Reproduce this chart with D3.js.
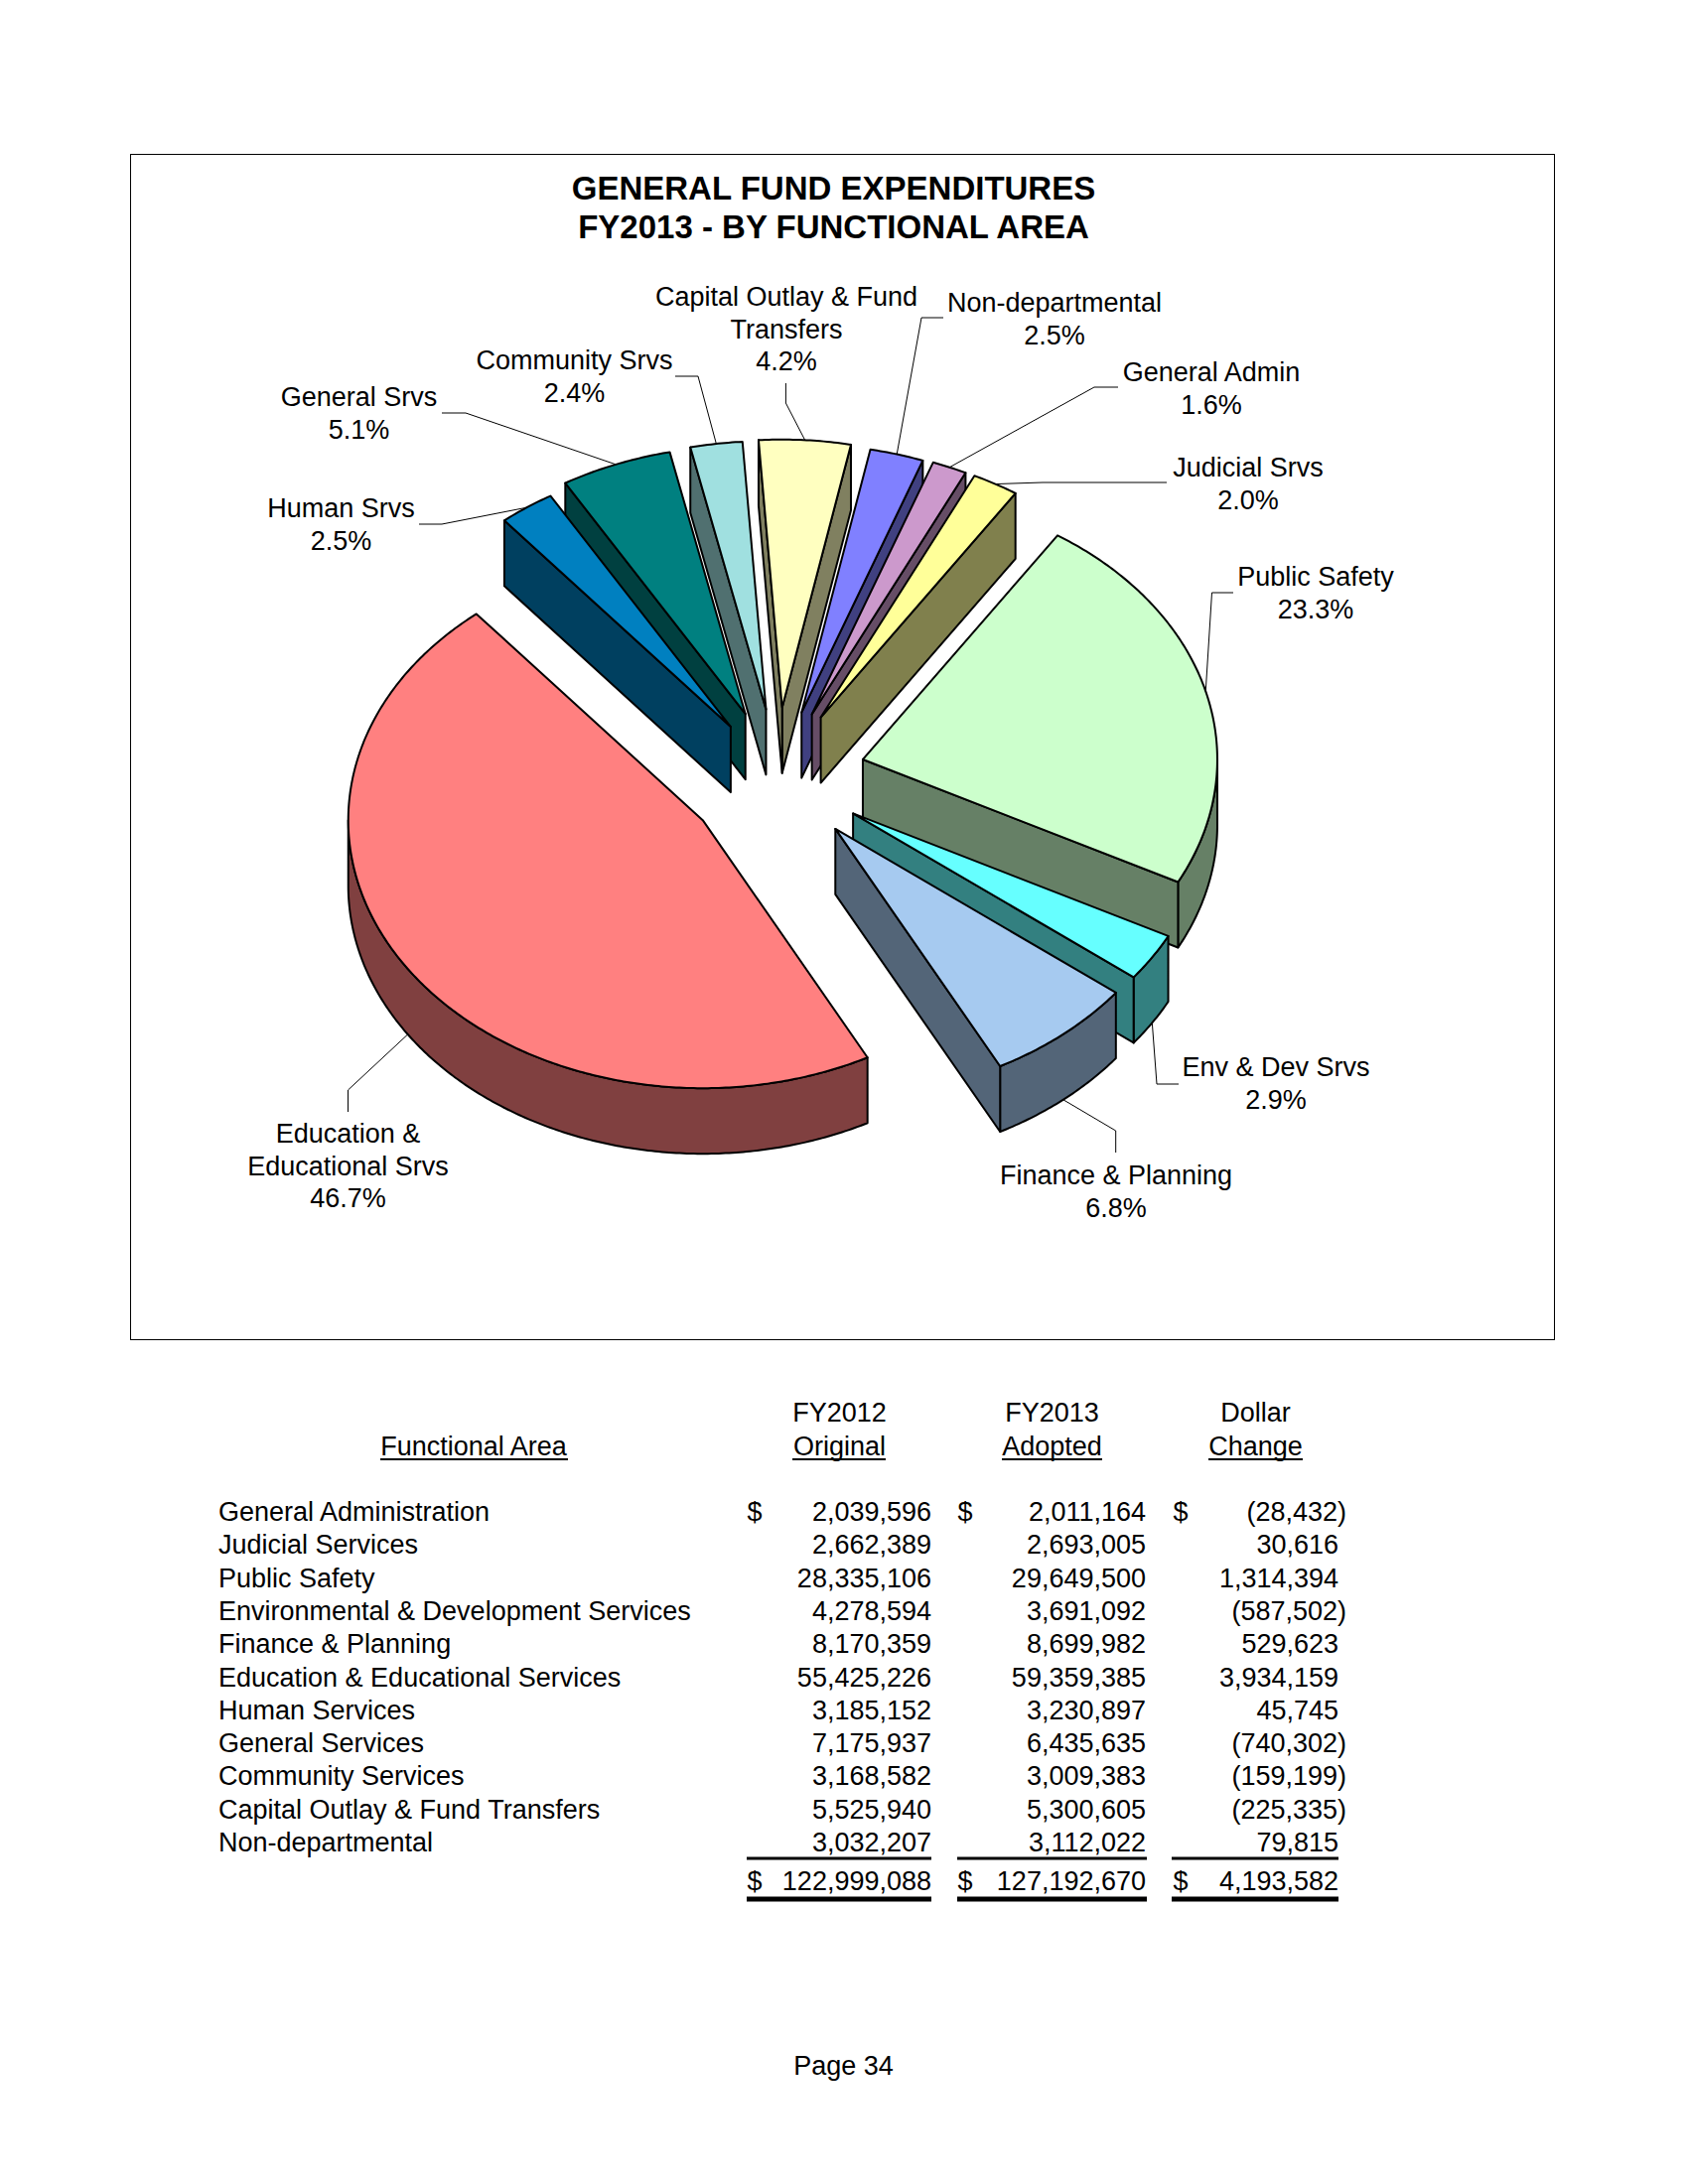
<!DOCTYPE html>
<html><head><meta charset="utf-8">
<script src="https://cdn.jsdelivr.net/npm/d3@7/dist/d3.min.js"></script>
<style>html,body{margin:0;padding:0;background:#fff}svg{display:block}text{font-family:"Liberation Sans",Arial,sans-serif;fill:#000}</style>
</head><body><svg id="c" width="1700" height="2200"></svg>
<script>
// ---- data ----
const areas = ["General Administration","Judicial Services","Public Safety","Environmental & Development Services","Finance & Planning","Education & Educational Services","Human Services","General Services","Community Services","Capital Outlay & Fund Transfers","Non-departmental"];
const fy2012 = [2039596,2662389,28335106,4278594,8170359,55425226,3185152,7175937,3168582,5525940,3032207];
const fy2013 = [2011164,2693005,29649500,3691092,8699982,59359385,3230897,6435635,3009383,5300605,3112022];
const change = [-28432,30616,1314394,-587502,529623,3934159,45745,-740302,-159199,-225335,79815];
const totals = [122999088,127192670,4193582];
const sliceLabels = [["General Admin"],["Judicial Srvs"],["Public Safety"],["Env & Dev Srvs"],["Finance & Planning"],["Education &","Educational Srvs"],["Human Srvs"],["General Srvs"],["Community Srvs"],["Capital Outlay & Fund","Transfers"],["Non-departmental"]];
const slicePct = ["1.6%","2.0%","23.3%","2.9%","6.8%","46.7%","2.5%","5.1%","2.4%","4.2%","2.5%"];
const sliceColors = ["#CC99CC","#FFFF99","#CCFFCC","#66FFFF","#A6CAF0","#FF8080","#0080C0","#008080","#A0E0E0","#FFFFC0","#8080FF"];
// ---- layout ----
const explodeX = [.255,.252,.251,.255,.257,.251,.226,.242,.216,.235,.26];
const explodeY = [.251,.253,.248,.258,.256,.295,.226,.25,.253,.257,.2475];
const drawOrder = [9,8,10,7,0,1,6,2,3,4,5];
const labelPos = [[1220,384],[1257,480],[1325,590],[1285,1084],[1124,1193],[350.5,1151],[343.5,521],[361.5,409],[578.5,372],[792,308],[1062,314]];
const elbows = [[[1126,390],[1102,390]],[[1175,486],[1050,486]],[[1242,597],[1220.5,597]],[[1187,1092],[1165,1092]],[[1123.7,1161],[1123.7,1139]],[[350.5,1120],[350.5,1098]],[[422,528],[445,528]],[[445,416],[469,416]],[[680,379],[703,379]],[[791.4,386],[791.4,406]],[[950,320],[928,320]]];

const svg = d3.select("#c");
const RX=357, RY=270, DEPTH=66, CX=782.3, CY=782;
const startDeg=20.0;
const rad=d=>d*Math.PI/180;
const sx=d3.scaleLinear().domain([-1,1]).range([-RX,RX]);
const sy=d3.scaleLinear().domain([-1,1]).range([RY,-RY]);
const pie=d3.pie().sort(null).startAngle(rad(startDeg)).endAngle(rad(startDeg+360));
const arcs=pie(fy2013);

function slicePt(i,a,dy=0){
  const s=arcs[i]; const m=(s.startAngle+s.endAngle)/2;
  const ax=CX+explodeX[i]*sx(Math.sin(m)), ay=CY+explodeY[i]*sy(Math.cos(m));
  if(a===null) return [ax,ay+dy];
  return [ax+sx(Math.sin(a)), ay+sy(Math.cos(a))+dy];
}
function sampled(i,a0,a1,dy=0){
  const n=Math.max(2,Math.ceil(Math.abs(a1-a0)/0.01));
  return d3.range(n+1).map(k=>slicePt(i,a0+(a1-a0)*k/n,dy));
}
const line=d3.line();
// frame
svg.append("rect").attr("x",131.5).attr("y",155.5).attr("width",1434).attr("height",1194).attr("fill","none").attr("stroke","#000").attr("stroke-width",1);

const g=svg.append("g").attr("stroke","#000").attr("stroke-width",2).attr("stroke-linejoin","round");
drawOrder.forEach(i=>{
  const s=arcs[i], a0=s.startAngle, a1=s.endAngle;
  const fill=sliceColors[i];
  const c=d3.rgb(fill); const wall=d3.rgb(c.r/2,c.g/2,c.b/2).formatHex();
  const A=slicePt(i,null),A2=slicePt(i,null,DEPTH);
  const lo=Math.max(a0,Math.PI/2), hi=Math.min(a1,Math.PI*1.5);
  if(hi>lo){
    const top=sampled(i,lo,hi), bot=sampled(i,hi,lo,DEPTH);
    g.append("path").attr("d",line(top.concat(bot))+"Z").attr("fill",wall);
  }
  if(Math.sin(a1)>0){
    g.append("path").attr("d",line([A,slicePt(i,a1),slicePt(i,a1,DEPTH),A2])+"Z").attr("fill",wall);
  }
  if(Math.sin(a0)<0){
    g.append("path").attr("d",line([A,slicePt(i,a0),slicePt(i,a0,DEPTH),A2])+"Z").attr("fill",wall);
  }
  g.append("path").attr("d",line([A].concat(sampled(i,a0,a1)))+"Z").attr("fill",fill);
});

// title
svg.selectAll("text.t").data(["GENERAL FUND EXPENDITURES","FY2013 - BY FUNCTIONAL AREA"]).join("text").attr("class","t")
 .attr("x",839.5).attr("y",(d,i)=>201+i*39).attr("text-anchor","middle").attr("font-weight","bold").attr("font-size",33).text(d=>d);

// leaders and labels
const leaders=svg.append("g").attr("fill","none").attr("stroke","#000").attr("stroke-width",1);
arcs.forEach((s,i)=>{
  const m=(s.startAngle+s.endAngle)/2;
  const front=Math.cos(m)<0;
  const p=slicePt(i,m,front?DEPTH:0);
  leaders.append("path").attr("d",line(elbows[i].concat([p])));
  const lines=sliceLabels[i].concat([slicePct[i]]);
  lines.forEach((t,k)=>svg.append("text").attr("x",labelPos[i][0]).attr("y",labelPos[i][1]+k*32.6).attr("text-anchor","middle").attr("font-size",27).text(t));
});

// table
const fmt=d3.format(",");
const money=v=>v<0?"("+fmt(-v)+")":fmt(v);
const FS=27, ROW0=1532, ROWH=33.3;
const colR=[938,1154,1348], colD=[752.5,964.5,1181.5], hdrX=[845.5,1059.5,1264.5];
const T=(x,y,t,anchor="start")=>svg.append("text").attr("x",x).attr("y",y).attr("font-size",FS).attr("text-anchor",anchor).text(t);
T(477,1466,"Functional Area","middle");
[["FY2012","Original"],["FY2013","Adopted"],["Dollar","Change"]].forEach((h,i)=>{T(hdrX[i],1432,h[0],"middle");T(hdrX[i],1466,h[1],"middle");});
const ul=[[383,572,1470],[798,892,1470],[1009,1110,1470],[1217,1312,1470]];
svg.selectAll("line.u").data(ul).join("line").attr("class","u").attr("x1",d=>d[0]).attr("x2",d=>d[1]).attr("y1",d=>d[2]).attr("y2",d=>d[2]).attr("stroke","#000").attr("stroke-width",2);
areas.forEach((a,r)=>{
  const y=ROW0+r*ROWH;
  T(220,y,a);
  T(colR[0],y,fmt(fy2012[r]),"end");
  T(colR[1],y,fmt(fy2013[r]),"end");
  const ch=change[r];
  T(colR[2]+(ch<0?8:0),y,money(ch),"end");
  if(r===0) colD.forEach(x=>T(x,y,"$"));
});
const yT=1904;
colD.forEach((x,i)=>{T(x,yT,"$");T(colR[i],yT,fmt(totals[i]),"end");});
const ruleX=[[752,938],[964,1155],[1180,1348]];
ruleX.forEach(r=>{
  svg.append("line").attr("x1",r[0]).attr("x2",r[1]).attr("y1",1872).attr("y2",1872).attr("stroke","#000").attr("stroke-width",3);
  svg.append("line").attr("x1",r[0]).attr("x2",r[1]).attr("y1",1913).attr("y2",1913).attr("stroke","#000").attr("stroke-width",5);
});
svg.append("text").attr("x",849.5).attr("y",2090).attr("text-anchor","middle").attr("font-size",27).text("Page 34");
</script></body></html>
